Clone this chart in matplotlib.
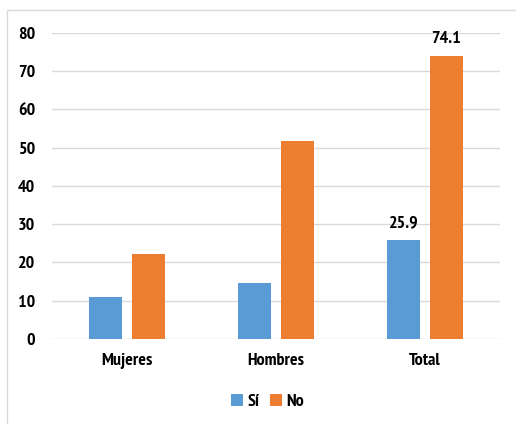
import numpy as np
import matplotlib
matplotlib.use('Agg')
import matplotlib.pyplot as plt
from matplotlib.patches import Rectangle

plt.rcParams['font.family'] = ['PT Sans Narrow', 'DejaVu Sans']
plt.rcParams['font.weight'] = 'bold'

categories = ['Mujeres', 'Hombres', 'Total']
si = [11.0, 14.7, 25.9]
no = [22.1, 51.8, 74.1]
labels_si = ['', '', '25.9']
labels_no = ['', '', '74.1']

c_si = '#5B9BD5'
c_no = '#ED7D31'

fig = plt.figure(figsize=(5.16, 4.24), dpi=100)
ax = fig.add_axes([0.1008, 0.2005, 0.8674, 0.7217])

# outer light frame
fig.patches.append(Rectangle((7/516, -0.01), 1.0, 1 - 10/424 + 0.01, transform=fig.transFigure,
                             fill=False, edgecolor='#D9D9D9', lw=1))

x = np.arange(len(categories))
w = 0.222
off = 0.144
b1 = ax.bar(x - off, si, w, color=c_si, label='Sí', zorder=3)
b2 = ax.bar(x + off, no, w, color=c_no, label='No', zorder=3)

for bars, labs in ((b1, labels_si), (b2, labels_no)):
    for r, t in zip(bars, labs):
        if t:
            ax.text(r.get_x() + r.get_width()/2, r.get_height() + 2.3, t,
                    ha='center', va='bottom', fontsize=13, fontweight='bold')

ax.set_xlim(-0.5, 2.5)
ax.set_ylim(0, 80)
ax.set_yticks(range(0, 81, 10))
ax.set_xticks(x)
ax.set_xticklabels(categories)
ax.tick_params(axis='both', length=0, labelsize=13)
ax.tick_params(axis='x', pad=10)
ax.tick_params(axis='y', pad=12)
ax.grid(axis='y', color='#D9D9D9', lw=1, zorder=0)
for s in ax.spines.values():
    s.set_visible(False)

ax.legend(loc='center', bbox_to_anchor=(0.482, -0.205), ncol=2, frameon=False,
          fontsize=13, handlelength=0.65, handleheight=0.65, handletextpad=0.25,
          columnspacing=0.6)

fig.savefig('out.png', dpi=100)
